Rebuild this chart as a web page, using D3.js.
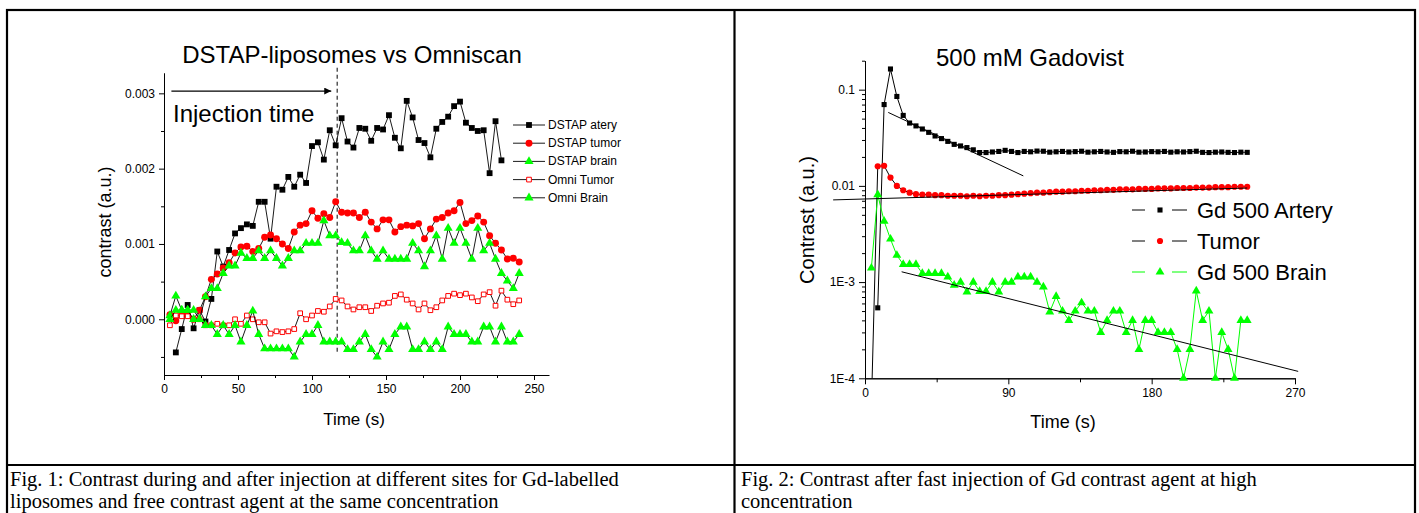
<!DOCTYPE html>
<html>
<head>
<meta charset="utf-8">
<script src="https://cdn.jsdelivr.net/npm/d3@7"></script>
<style>
  body { margin: 0; background: #fff; }
  svg { display: block; }
  .sans { font-family: "Liberation Sans", Arial, sans-serif; }
  .serif { font-family: "Liberation Serif", "Times New Roman", serif; }
</style>
</head>
<body>
<div id="chart"></div>
<script>

// sample times (s), both figures
var times = [4,8,12,16,20,24,28,32,36,40,44,48,52,56,60,64,68,72,76,80,84,88,92,96,100,104,108,112,116,120,
             124,128,132,136,140,144,148,152,156,160,164,168,172,176,180,184,188,192,196,200,204,208,212,216,220,224,228,232,236,240];

// FIG 1 values, in units of 1e-3 a.u.
var dstapArtery = [null,-0.44,-0.13,0.19,-0.12,0.12,-0.03,0.27,0.90,0.70,0.92,1.14,1.21,1.26,1.24,1.56,1.56,1.07,1.76,1.72,
                   1.89,1.76,1.92,1.81,2.30,2.35,2.12,2.51,2.31,2.67,2.36,2.28,2.54,2.53,2.37,2.54,2.52,2.71,2.41,2.27,
                   2.90,2.68,2.38,2.34,2.15,2.53,2.62,2.69,2.83,2.89,2.61,2.54,2.50,2.51,1.94,2.63,2.11,null,null,null];
var dstapTumor = [0.06,-0.02,0.07,0.05,0.00,0.12,0.30,0.53,0.60,0.68,0.75,0.88,0.96,0.97,0.90,0.94,1.09,1.12,1.07,1.00,
                  0.94,1.16,1.25,1.27,1.44,1.34,1.40,1.35,1.56,1.42,1.41,1.41,1.35,1.42,1.29,1.20,1.32,1.32,1.16,1.23,
                  1.25,1.24,1.27,1.07,1.20,1.33,1.35,1.41,1.44,1.55,1.27,1.31,1.37,1.29,1.11,1.01,0.92,0.80,0.81,0.76];
var dstapBrain = [0.05,0.31,0.12,0.12,0.12,0.00,0.30,0.41,0.41,0.61,0.71,0.71,0.88,0.81,0.81,0.91,0.81,0.91,0.81,0.71,
                  0.81,0.91,0.91,1.01,1.01,1.01,1.31,1.11,1.11,1.02,1.01,0.91,0.91,1.11,0.91,0.80,0.91,0.80,0.80,0.80,
                  0.80,1.01,0.91,0.70,0.91,1.11,0.80,1.21,1.01,1.21,1.01,0.80,1.21,0.91,1.01,0.80,0.61,0.51,0.41,0.61];
var omniTumor = [-0.08,0.05,0.04,0.04,0.00,0.00,-0.08,-0.08,-0.06,-0.08,-0.08,0.00,-0.06,0.05,0.00,-0.04,-0.04,-0.19,-0.16,-0.17,
                 -0.16,-0.13,0.08,0.00,0.05,0.11,0.10,0.17,0.27,0.25,0.17,0.13,0.16,0.16,0.11,0.18,0.21,0.22,0.31,0.33,
                 0.26,0.21,0.13,0.21,0.12,0.16,0.25,0.31,0.34,0.32,0.34,0.29,0.24,0.33,0.36,0.18,0.38,0.26,0.20,0.25];
var omniBrain = [0.00,0.12,0.12,0.12,0.00,0.00,-0.08,-0.08,-0.20,-0.08,-0.20,-0.08,-0.30,-0.08,0.11,-0.20,-0.39,-0.39,-0.39,-0.39,
                 -0.39,-0.50,-0.30,-0.20,-0.20,-0.08,-0.30,-0.30,-0.30,-0.30,-0.40,-0.40,-0.30,-0.20,-0.40,-0.50,-0.30,-0.40,-0.20,-0.10,
                 -0.10,-0.40,-0.40,-0.30,-0.40,-0.30,-0.40,-0.10,-0.20,-0.20,-0.20,-0.30,-0.30,-0.10,-0.10,-0.30,-0.10,-0.30,-0.30,-0.20];
var injectionTime = 117;

// FIG 2 values (a.u.)
var gdArtery = [null,5.4e-4,0.070,0.164,0.085,0.054,0.045,0.042,0.039,0.036,0.033,0.031,0.029,0.027,0.026,0.025,0.0237,0.0222,0.0222,0.0225,
                0.0228,0.0234,0.0228,0.0222,0.0228,0.0226,0.0230,0.0229,0.0224,0.0226,0.0228,0.0225,0.0227,0.0229,0.0224,0.0226,0.0228,0.0225,0.0223,0.0227,
                0.0226,0.0229,0.0224,0.0225,0.0227,0.0226,0.0228,0.0224,0.0226,0.0225,0.0227,0.0229,0.0223,0.0222,0.0224,0.0225,0.0223,0.0222,0.0224,0.0223];
var gdTumor = [5e-5,0.0160,0.0162,0.0122,0.0100,0.0090,0.0085,0.0082,0.0081,0.0081,0.0080,0.0080,0.0079,0.0079,0.0079,0.0078,0.0079,0.0078,0.0079,0.0079,
               0.0080,0.0080,0.0081,0.0082,0.0083,0.0084,0.0085,0.0085,0.0086,0.0087,0.0087,0.0088,0.0088,0.0089,0.0089,0.0090,0.0090,0.0091,0.0091,0.0092,
               0.0092,0.0092,0.0093,0.0093,0.0093,0.0094,0.0094,0.0094,0.0095,0.0095,0.0095,0.0096,0.0096,0.0096,0.0097,0.0097,0.0097,0.0098,0.0098,0.0098];
var gdBrain = [1.4e-3,8.1e-3,4.3e-3,2.8e-3,1.9e-3,1.53e-3,1.53e-3,1.53e-3,1.23e-3,1.23e-3,1.23e-3,1.23e-3,1.13e-3,9.3e-4,1.0e-3,7.9e-4,1.0e-3,8e-4,8e-4,1.0e-3,
               7.9e-4,1.0e-3,1.0e-3,1.13e-3,1.13e-3,1.13e-3,1.0e-3,8.9e-4,4.9e-4,7.1e-4,5.0e-4,4.0e-4,5.0e-4,6.1e-4,5.0e-4,5.0e-4,3.0e-4,4.0e-4,5.0e-4,5.0e-4,
               3.0e-4,4.0e-4,2.0e-4,4.0e-4,4.0e-4,3.0e-4,3.0e-4,3.0e-4,2.0e-4,1.0e-4,2.0e-4,8.1e-4,4.0e-4,5.0e-4,1.0e-4,3.0e-4,2.0e-4,1.0e-4,4.0e-4,4.0e-4];

// exponential fit lines (end points)
var fitArteryT = [14.6, 99.4], fitArteryV = [0.058, 0.0127];
var fitTumorT = [-20, 240],    fitTumorV = [0.00715, 0.0095];
var fitBrainT = [23, 272],     fitBrainV = [0.00128, 0.000118];

// tick labels
var leftXTicks = [0,50,100,150,200,250], leftXMinor = [25,75,125,175,225];
var leftYTicks = [0,1,2,3], leftYMinor = [-0.5,0.5,1.5,2.5];
var rightXTicks = [0,90,180,270], rightXMinor = [45,135,225];
var rightYTicks = [1e-4,1e-3,1e-2,1e-1], rightYLabels = ["1E-4","1E-3","0.01","0.1"];

var captions = [
  ["Fig. 1: Contrast during and after injection at different sites for Gd-labelled", "liposomes and free contrast agent at the same concentration"],
  ["Fig. 2: Contrast after fast injection of Gd contrast agent at high", "concentration"]
];

var W = 1419, H = 513;
var GREEN = "#00ff00", RED = "#ff0000";

var svg = d3.select("#chart").append("svg")
  .attr("width", W).attr("height", H)
  .attr("class", "sans");

svg.append("rect").attr("width", W).attr("height", H).attr("fill", "#fff");

// table frame
var frame = svg.append("g").attr("stroke", "#000").attr("fill", "none");
frame.append("rect").attr("x", 7).attr("y", 10).attr("width", 1408).attr("height", 520).attr("stroke-width", 2.2);
frame.append("line").attr("x1", 734.5).attr("x2", 734.5).attr("y1", 10).attr("y2", H).attr("stroke-width", 2.2);
frame.append("line").attr("x1", 7).attr("x2", 1415).attr("y1", 465).attr("y2", 465).attr("stroke-width", 2);

captions.forEach(function(c, i) {
  c.forEach(function(line, j) {
    svg.append("text").attr("class", "serif").attr("font-size", 20.5).attr("fill", "#000")
      .attr("x", i == 0 ? 10 : 741).attr("y", 486 + j * 22).text(line);
  });
});

function sym(type, size) { return d3.symbol().type(type).size(size)(); }

// ---------------- FIG 1 ----------------
var xL = d3.scaleLinear().domain([0, 260]).range([164, 548.8]);
var yL = d3.scaleLinear().domain([-0.74, 3.27]).range([375, 73]);

var gL = svg.append("g");

gL.append("g").attr("transform", "translate(0,375)")
  .call(d3.axisBottom(xL).tickValues(leftXTicks).tickSize(5).tickSizeOuter(0).tickPadding(4).tickFormat(d3.format("d")));
gL.append("g").attr("transform", "translate(0,375)")
  .call(d3.axisBottom(xL).tickValues(leftXMinor).tickSize(3).tickSizeOuter(0).tickFormat(""));
gL.append("g").attr("transform", "translate(164,0)")
  .call(d3.axisLeft(yL).tickValues(leftYTicks).tickSize(5).tickSizeOuter(0).tickPadding(4)
    .tickFormat(function(d) { return (d / 1000).toFixed(3); }));
gL.append("g").attr("transform", "translate(164,0)")
  .call(d3.axisLeft(yL).tickValues(leftYMinor).tickSize(3).tickSizeOuter(0).tickFormat(""));
gL.selectAll(".tick text").attr("font-size", 12).attr("font-family", "Liberation Sans, Arial, sans-serif").attr("fill", "#000");
gL.selectAll(".domain, .tick line").attr("stroke", "#000");

gL.append("text").attr("x", 352).attr("y", 63).attr("text-anchor", "middle").attr("font-size", 24).text("DSTAP-liposomes vs Omniscan");
gL.append("text").attr("x", 354).attr("y", 425).attr("text-anchor", "middle").attr("font-size", 17).text("Time (s)");
gL.append("text").attr("transform", "translate(111,222) rotate(-90)").attr("text-anchor", "middle").attr("font-size", 18).text("contrast (a.u.)");

// injection marker
gL.append("line").attr("x1", xL(injectionTime)).attr("x2", xL(injectionTime))
  .attr("y1", yL(3.34)).attr("y2", yL(-0.47))
  .attr("stroke", "#000").attr("stroke-dasharray", "4,3").attr("stroke-width", 1);
svg.append("defs").append("marker").attr("id", "arr").attr("viewBox", "0 0 10 10").attr("refX", 10).attr("refY", 5)
  .attr("markerWidth", 9).attr("markerHeight", 7).attr("markerUnits", "userSpaceOnUse").attr("orient", "auto")
  .append("path").attr("d", "M0,0L10,5L0,10z").attr("fill", "#000");
gL.append("line").attr("x1", xL(5)).attr("x2", xL(113)).attr("y1", yL(3.03)).attr("y2", yL(3.03))
  .attr("stroke", "#000").attr("stroke-width", 1.3).attr("marker-end", "url(#arr)");
gL.append("text").attr("x", 173).attr("y", 122).attr("font-size", 24).text("Injection time");

var seriesL = [
  {name: "DSTAP atery", values: dstapArtery, type: d3.symbolSquare, size: 34, fill: "#000", stroke: "none"},
  {name: "DSTAP tumor", values: dstapTumor, type: d3.symbolCircle, size: 38, fill: RED, stroke: "none"},
  {name: "DSTAP brain", values: dstapBrain, type: d3.symbolTriangle, size: 36, fill: GREEN, stroke: "none"},
  {name: "Omni Tumor", values: omniTumor, type: d3.symbolSquare, size: 22, fill: "#fff", stroke: RED},
  {name: "Omni Brain", values: omniBrain, type: d3.symbolTriangle, size: 36, fill: GREEN, stroke: "none"}
];

var lineL = d3.line()
  .defined(function(d) { return d.v != null; })
  .x(function(d) { return xL(d.t); })
  .y(function(d) { return yL(d.v); });

seriesL.forEach(function(s, k) {
  var pts = times.map(function(t, i) { return {t: t, v: s.values[i]}; });
  gL.append("path").datum(pts).attr("d", lineL).attr("fill", "none").attr("stroke", "#000").attr("stroke-width", 0.9);
  gL.selectAll(null).data(pts.filter(function(d) { return d.v != null; }))
    .enter().append("path")
    .attr("d", sym(s.type, s.size))
    .attr("transform", function(d) { return "translate(" + xL(d.t) + "," + yL(d.v) + ")"; })
    .attr("fill", s.fill).attr("stroke", s.stroke).attr("stroke-width", 1);

  // legend
  var ly = 125 + k * 18.2;
  gL.append("line").attr("x1", 513).attr("x2", 545).attr("y1", ly).attr("y2", ly).attr("stroke", "#000").attr("stroke-width", 0.9);
  gL.append("path").attr("d", sym(s.type, s.size)).attr("transform", "translate(529," + ly + ")")
    .attr("fill", s.fill).attr("stroke", s.stroke).attr("stroke-width", 1);
  gL.append("text").attr("x", 548).attr("y", ly + 4).attr("font-size", 12).text(s.name);
});

// ---------------- FIG 2 ----------------
var xR = d3.scaleLinear().domain([0, 270]).range([865, 1295]);
var yR = d3.scaleLog().domain([1e-4, 0.2]).range([378.3, 60.7]);

var gR = svg.append("g");
var minorLog = [];
[1e-4, 1e-3, 1e-2, 1e-1].forEach(function(p) {
  [2,3,4,5,6,7,8,9].forEach(function(m) { if (m * p <= 0.2) minorLog.push(m * p); });
});

gR.append("g").attr("transform", "translate(0,378.3)")
  .call(d3.axisBottom(xR).tickValues(rightXTicks).tickSize(6).tickSizeOuter(0).tickPadding(4).tickFormat(d3.format("d")));
gR.append("g").attr("transform", "translate(0,378.3)")
  .call(d3.axisBottom(xR).tickValues(rightXMinor).tickSize(4).tickSizeOuter(0).tickFormat(""));
gR.append("g").attr("transform", "translate(865,0)")
  .call(d3.axisLeft(yR).tickValues(rightYTicks).tickSize(6).tickSizeOuter(0).tickPadding(4)
    .tickFormat(function(d, i) { return rightYLabels[i]; }));
gR.append("g").attr("transform", "translate(865,0)")
  .call(d3.axisLeft(yR).tickValues(minorLog).tickSize(3).tickSizeOuter(0).tickFormat(""));
gR.selectAll(".tick text").attr("font-size", 12).attr("font-family", "Liberation Sans, Arial, sans-serif").attr("fill", "#000");
gR.selectAll(".domain, .tick line").attr("stroke", "#000");

gR.append("text").attr("x", 1030).attr("y", 66).attr("text-anchor", "middle").attr("font-size", 24).text("500 mM Gadovist");
gR.append("text").attr("x", 1063).attr("y", 428).attr("text-anchor", "middle").attr("font-size", 18).text("Time (s)");
gR.append("text").attr("transform", "translate(814,220) rotate(-90)").attr("text-anchor", "middle").attr("font-size", 20).text("Contrast (a.u.)");

svg.select("defs").append("clipPath").attr("id", "clipR")
  .append("rect").attr("x", 865).attr("y", 40).attr("width", 440).attr("height", 338.3);

var lineR = d3.line()
  .defined(function(d) { return d.v != null; })
  .x(function(d) { return xR(d.t); })
  .y(function(d) { return yR(d.v); });

var seriesR = [
  {name: "Gd 500 Artery", values: gdArtery, type: d3.symbolSquare, size: 26, fill: "#000", line: "#000"},
  {name: "Tumor", values: gdTumor, type: d3.symbolCircle, size: 30, fill: RED, line: "#000"},
  {name: "Gd 500 Brain", values: gdBrain, type: d3.symbolTriangle, size: 34, fill: GREEN, line: GREEN}
];

seriesR.forEach(function(s, k) {
  var pts = times.map(function(t, i) { return {t: t, v: s.values[i]}; });
  gR.append("path").datum(pts).attr("d", lineR).attr("clip-path", "url(#clipR)")
    .attr("fill", "none").attr("stroke", s.line).attr("stroke-width", 1);
  gR.selectAll(null).data(pts.filter(function(d) { return d.v != null && d.v >= 1e-4; }))
    .enter().append("path")
    .attr("d", sym(s.type, s.size))
    .attr("transform", function(d) { return "translate(" + xR(d.t) + "," + yR(d.v) + ")"; })
    .attr("fill", s.fill);

  var ly = 210 + k * 31;
  gR.append("line").attr("x1", 1132).attr("x2", 1145).attr("y1", ly).attr("y2", ly).attr("stroke", s.line).attr("stroke-width", 1);
  gR.append("line").attr("x1", 1172).attr("x2", 1187).attr("y1", ly).attr("y2", ly).attr("stroke", s.line).attr("stroke-width", 1);
  gR.append("path").attr("d", sym(s.type, s.size)).attr("transform", "translate(1160," + ly + ")").attr("fill", s.fill);
  gR.append("text").attr("x", 1197).attr("y", ly + 8).attr("font-size", 22).text(s.name);
});

// fitted decay lines
[[fitArteryT, fitArteryV], [fitTumorT, fitTumorV], [fitBrainT, fitBrainV]].forEach(function(f) {
  gR.append("line")
    .attr("x1", xR(f[0][0])).attr("y1", yR(f[1][0]))
    .attr("x2", xR(f[0][1])).attr("y2", yR(f[1][1]))
    .attr("stroke", "#000").attr("stroke-width", 1);
});

</script>
</body>
</html>
